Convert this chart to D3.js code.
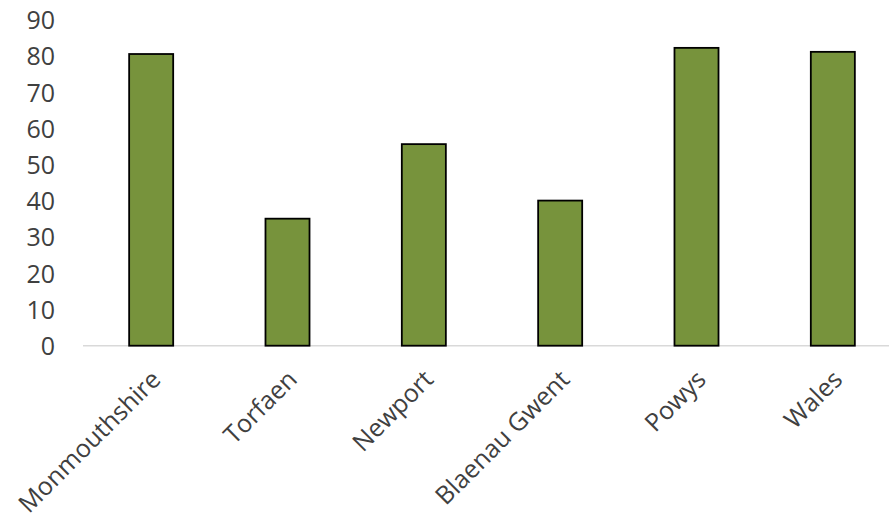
<!DOCTYPE html>
<html><head><meta charset="utf-8">
<script src="https://cdn.jsdelivr.net/npm/d3@7"></script>
<style>html,body{margin:0;padding:0;background:#fff;overflow:hidden}</style>
</head><body>
<script>
const categories = ["Monmouthshire","Torfaen","Newport","Blaenau Gwent","Powys","Wales"];
const values = [80.6, 35.1, 55.7, 40.1, 82.3, 81.2];
const yTicks = [0,10,20,30,40,50,60,70,80,90];

const W = 889, H = 519;
const svg = d3.select("body").append("svg").attr("width", W).attr("height", H)
  .style("font-family", "'Open Sans', sans-serif");

const x = d3.scaleBand().domain(categories).range([83, 901]).paddingInner(0.677).paddingOuter(0.3385);
const y = d3.scaleLinear().domain([0, 90]).range([345.7, 20.0]);

// axis line
svg.append("line").attr("x1", 83).attr("x2", 901).attr("y1", y(0)).attr("y2", y(0))
  .attr("stroke", "#d9d9d9").attr("stroke-width", 1.5);

// y tick labels
const yAxis = d3.axisLeft(y).tickValues(yTicks).tickSize(0).tickPadding(0);
const ga = svg.append("g").attr("transform", "translate(55,0)").call(yAxis);
ga.select(".domain").remove();
ga.selectAll("text").attr("font-size", 25).attr("fill", "#404040")
  .attr("font-family", "'Open Sans', sans-serif").attr("dy", "0.35em");

// bars
svg.append("g").selectAll("rect").data(values).join("rect")
  .attr("x", (d, i) => x(categories[i]))
  .attr("width", x.bandwidth())
  .attr("y", d => y(d))
  .attr("height", d => y(0) - y(d))
  .attr("fill", "#77933c")
  .attr("stroke", "#000").attr("stroke-width", 1.8);

// x labels
svg.append("g").selectAll("text").data(categories).join("text")
  .attr("transform", d => `translate(${x(d) + x.bandwidth()/2 + 11},${381}) rotate(-45)`)
  .attr("text-anchor", "end")
  .attr("font-size", 25).attr("fill", "#404040")
  .text(d => d);
</script>
</body></html>
